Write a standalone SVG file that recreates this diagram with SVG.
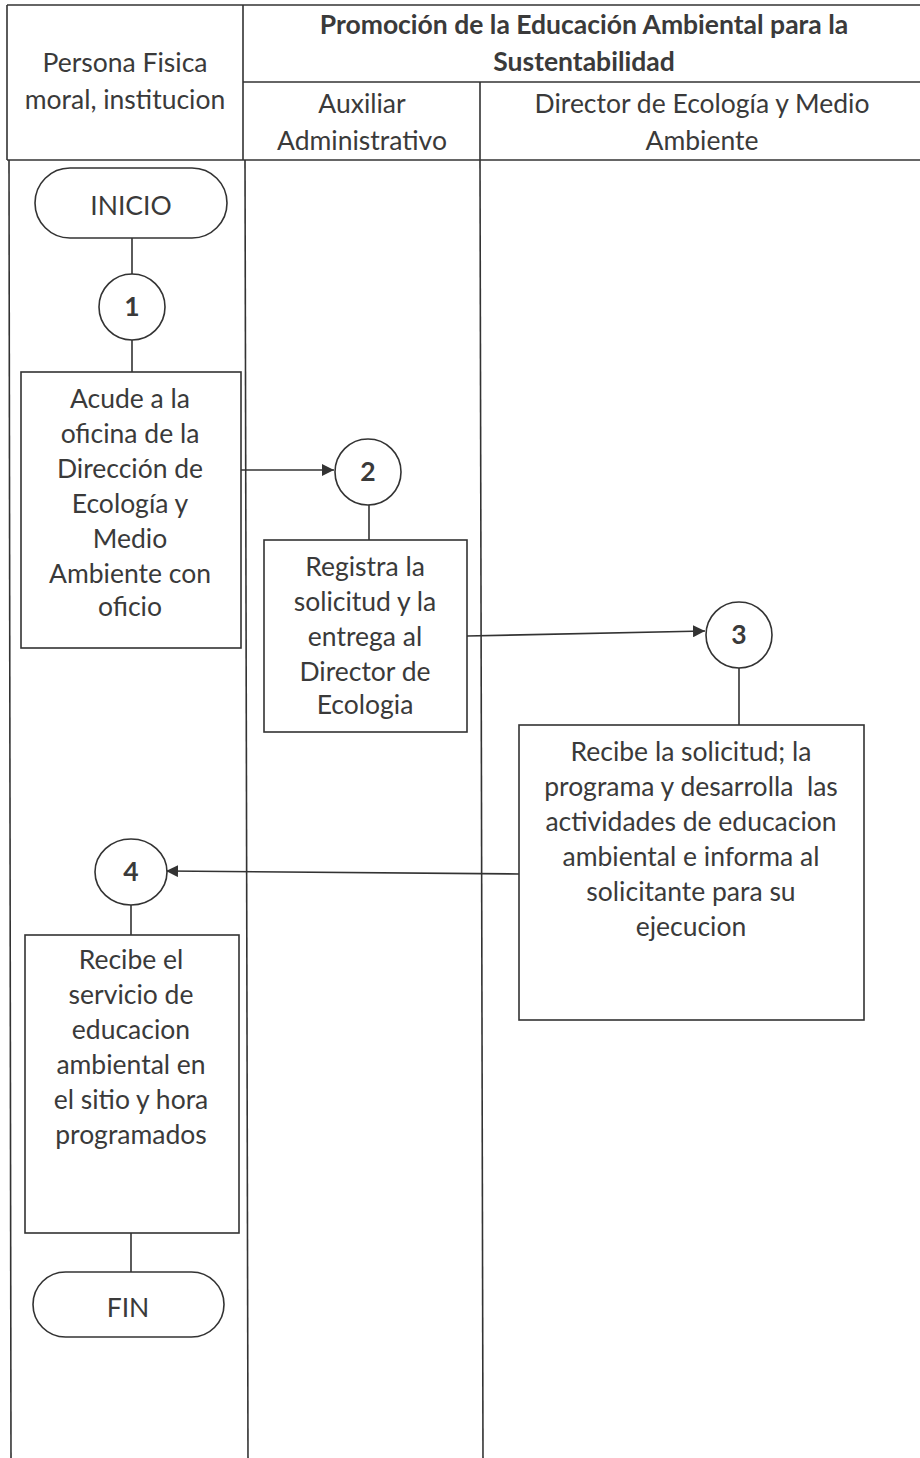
<svg xmlns="http://www.w3.org/2000/svg" width="920" height="1458" viewBox="0 0 920 1458">
<defs>
<style>
.ln{stroke:#333;stroke-width:1.6;fill:none}
.bx{stroke:#333;stroke-width:1.6;fill:#fff}
.t{font-family:Lato,"Open Sans","Liberation Sans",sans-serif;font-size:26.5px;fill:#3a3a3a;text-anchor:middle}
.b{font-weight:bold}
</style>
<marker id="ah" viewBox="0 0 10 10" refX="10" refY="5" markerWidth="12" markerHeight="12" markerUnits="userSpaceOnUse" orient="auto">
<path d="M0,0 L10,5 L0,10 z" fill="#333"/>
</marker>
</defs>
<rect width="920" height="1458" fill="#fff"/>
<g id="lanes">
<line class="ln" x1="7" y1="5" x2="920" y2="5"/>
<line class="ln" x1="7" y1="5" x2="7" y2="160"/>
<line class="ln" x1="243" y1="5" x2="243" y2="160"/>
<line class="ln" x1="243" y1="82" x2="920" y2="82"/>
<line class="ln" x1="480" y1="82" x2="480" y2="160"/>
<line class="ln" x1="7" y1="160" x2="920" y2="160"/>
<line class="ln" x1="9" y1="160" x2="11" y2="1458"/>
<line class="ln" x1="245" y1="160" x2="248" y2="1458"/>
<line class="ln" x1="480" y1="160" x2="483" y2="1458"/>
<text class="t" x="125" y="72">Persona Fisica</text>
<text class="t" x="125" y="109">moral, institucion</text>
<text class="t b" x="584" y="34">Promoción de la Educación Ambiental para la</text>
<text class="t b" x="584" y="71">Sustentabilidad</text>
<text class="t" x="362" y="113">Auxiliar</text>
<text class="t" x="362" y="150">Administrativo</text>
<text class="t" x="702" y="113">Director de Ecología y Medio</text>
<text class="t" x="702" y="150">Ambiente</text>
</g>
<g id="connectors">
<line class="ln" x1="132" y1="238" x2="132" y2="274"/>
<line class="ln" x1="132" y1="340" x2="132" y2="372"/>
<line class="ln" x1="237" y1="470" x2="334" y2="470" marker-end="url(#ah)"/>
<line class="ln" x1="369" y1="505" x2="369" y2="540"/>
<line class="ln" x1="467" y1="636" x2="705" y2="631" marker-end="url(#ah)"/>
<line class="ln" x1="739" y1="668" x2="739" y2="725"/>
<line class="ln" x1="519" y1="874" x2="166" y2="871" marker-end="url(#ah)"/>
<line class="ln" x1="131" y1="905" x2="131" y2="935"/>
<line class="ln" x1="131" y1="1233" x2="131" y2="1272"/>
</g>
<g id="inicio">
<rect class="bx" x="35" y="168" width="192" height="70" rx="35"/>
<text class="t" x="131" y="215">INICIO</text>
</g>
<g id="c1">
<circle class="bx" cx="132" cy="307" r="33"/>
<text class="t b" x="132" y="316">1</text>
</g>
<g id="box1">
<rect class="bx" x="21" y="372" width="220" height="276"/>
<text class="t" x="130" y="408">Acude a la</text>
<text class="t" x="130" y="443">oficina de la</text>
<text class="t" x="130" y="478">Dirección de</text>
<text class="t" x="130" y="513">Ecología y</text>
<text class="t" x="130" y="548">Medio</text>
<text class="t" x="130" y="583">Ambiente con</text>
<text class="t" x="130" y="616">oficio</text>
</g>
<g id="c2">
<circle class="bx" cx="368" cy="472" r="33"/>
<text class="t b" x="368" y="481">2</text>
</g>
<g id="box2">
<rect class="bx" x="264" y="540" width="203" height="192"/>
<text class="t" x="365" y="576">Registra la</text>
<text class="t" x="365" y="611">solicitud y la</text>
<text class="t" x="365" y="646">entrega al</text>
<text class="t" x="365" y="681">Director de</text>
<text class="t" x="365" y="714">Ecologia</text>
</g>
<g id="c3">
<circle class="bx" cx="739" cy="635" r="33"/>
<text class="t b" x="739" y="644">3</text>
</g>
<g id="box3">
<rect class="bx" x="519" y="725" width="345" height="295"/>
<text class="t" x="691" y="761">Recibe la solicitud; la</text>
<text class="t" x="691" y="796" xml:space="preserve">programa y desarrolla  las</text>
<text class="t" x="691" y="831">actividades de educacion</text>
<text class="t" x="691" y="866">ambiental e informa al</text>
<text class="t" x="691" y="901">solicitante para su</text>
<text class="t" x="691" y="936">ejecucion</text>
</g>
<g id="c4">
<ellipse class="bx" cx="131" cy="872" rx="36" ry="33"/>
<text class="t b" x="131" y="881">4</text>
</g>
<g id="box4">
<rect class="bx" x="25" y="935" width="214" height="298"/>
<text class="t" x="131" y="969">Recibe el</text>
<text class="t" x="131" y="1004">servicio de</text>
<text class="t" x="131" y="1039">educacion</text>
<text class="t" x="131" y="1074">ambiental en</text>
<text class="t" x="131" y="1109">el sitio y hora</text>
<text class="t" x="131" y="1144">programados</text>
</g>
<g id="fin">
<rect class="bx" x="33" y="1272" width="191" height="65" rx="32.5"/>
<text class="t" x="128" y="1317">FIN</text>
</g>
</svg>
